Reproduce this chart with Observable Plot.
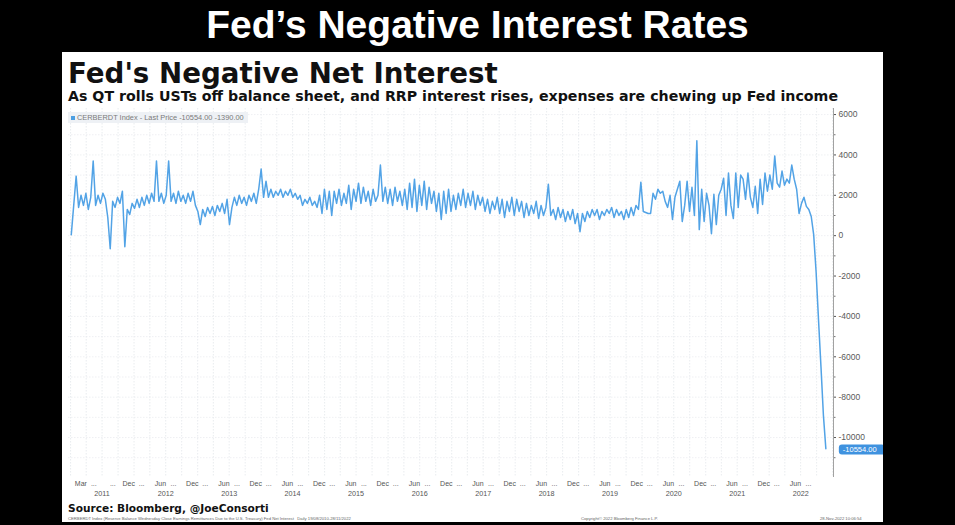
<!DOCTYPE html>
<html><head><meta charset="utf-8">
<script src="https://cdn.jsdelivr.net/npm/d3@7"></script>
<script src="https://cdn.jsdelivr.net/npm/@observablehq/plot@0.6"></script>
<style>
html,body{margin:0;padding:0}
body{background:#000;width:955px;height:525px;overflow:hidden;position:relative;font-family:"DejaVu Sans",sans-serif}
#title{position:absolute;left:0;top:2px;width:955px;text-align:center;color:#fff;font:bold 39px/45px "Liberation Sans",Arial,sans-serif}
#panel{position:absolute;left:62px;top:52px;width:821px;height:470px;background:#fff;overflow:hidden}
#h1{position:absolute;left:6px;top:6px;font:bold 27.7px/32px "DejaVu Sans",sans-serif;color:#111;white-space:nowrap}
#h2{position:absolute;left:6px;top:36px;font:bold 14.2px/17px "DejaVu Sans",sans-serif;color:#111;white-space:nowrap}
#legend{position:absolute;left:6px;top:60px;background:#eef1f5;padding:1px 4px 1px 3px;font:7.4px/9px "Liberation Sans",Arial,sans-serif;color:#7a7a7a;white-space:nowrap;z-index:2}
#legend i{display:inline-block;width:4px;height:4px;background:#4c9fe2;margin-right:2px;vertical-align:middle}
#chart{position:absolute;left:0;top:53px}
#source{position:absolute;left:6px;top:450px;font:bold 10.6px/13px "DejaVu Sans",sans-serif;color:#111;white-space:nowrap}
.tiny{position:absolute;top:464px;font:4.2px/6px "Liberation Sans",Arial,sans-serif;color:#666;white-space:nowrap}
</style>
</head>
<body>
<div id="title">Fed’s Negative Interest Rates</div>
<div id="panel">
  <div id="h1">Fed's Negative Net Interest</div>
  <div id="h2">As QT rolls USTs off balance sheet, and RRP interest rises, expenses are chewing up Fed income</div>
  <div id="legend"><i></i>CERBERDT Index - Last Price -10554.00 -1390.00</div>
  <div id="chart"></div>
  <div id="source">Source: Bloomberg, @JoeConsorti</div>
  <div class="tiny" style="left:6px">CERBERDT Index (Reserve Balance Wednesday Close Earnings Remittances Due to the U.S. Treasury) Fed Net Interest &nbsp; Daily 19/08/2010-28/11/2022</div>
  <div class="tiny" style="left:519px">Copyright© 2022 Bloomberg Finance L.P.</div>
  <div class="tiny" style="left:758px">28-Nov-2022 10:06:54</div>
</div>
<script>
// ---- data (biweekly readings, Wednesday close, millions USD) ----
const startDate = "2011-01-05";
const stepDays = 14;
const netInterest = [
  // 2011
  50,1500,2950,1400,2000,1500,2100,1300,1900,3700,1500,2000,1600,2100,1800,900,-650,1700,1400,1900,1600,2200,-550,1300,1050,1600,
  // 2012
  1350,1800,1400,1900,1500,2000,1600,2100,1700,3700,1700,2100,1600,2000,3700,1700,2100,1600,2200,1700,2000,1600,2100,1700,2200,1500,
  // 2013
  1200,550,1300,950,1400,1100,1450,1000,1500,1200,1600,1100,1800,550,1400,1900,1500,2000,1600,1900,1500,2000,1700,2100,1600,2300,
  // 2014
  3300,1900,2700,1900,2300,1900,2200,2000,2300,1900,2200,2000,2300,1900,2100,1800,2000,1500,1800,1600,1900,1500,1700,1400,2000,1100,
  // 2015
  2300,1300,2200,1000,2200,1600,2300,1500,2100,1600,2500,1300,2300,1700,2600,1600,2400,1700,2200,1500,2300,1700,2000,3500,1700,2400,
  // 2016
  1600,2300,1500,2400,1700,2200,1500,2300,1300,2600,1400,2800,1200,2500,1500,2700,1300,2400,1600,2200,1200,2100,800,2200,1100,2300,
  // 2017
  1200,2000,1300,2100,1500,2300,1400,2100,1500,2200,1300,2000,1500,1900,1200,1800,1100,1700,1300,1900,1100,1800,900,1700,1200,1900,
  // 2018
  1000,1800,1200,1700,900,1600,1000,1500,1100,1700,850,1500,1000,1400,2550,1000,1300,800,1400,900,1300,700,1200,800,1300,600,
  // 2019
  1100,200,1100,700,1200,900,1300,1000,1300,800,1200,1000,1300,1100,1400,900,1300,1000,1200,800,1300,900,1400,1000,1500,1300,
  // 2020
  2650,1200,1150,1100,1100,2100,1800,2300,2100,2200,1700,1400,2000,800,1900,2300,2700,700,1500,2700,1200,2400,1000,4700,300,2300,
  // 2021
  700,2100,1500,100,2050,550,2000,2300,2850,1000,3100,1500,850,3100,1400,3000,2800,1800,3100,1900,1400,2450,1100,2800,1550,3100,
  // 2022
  2200,3000,2300,3950,2600,2400,3200,2500,2800,2600,3500,2800,2300,1100,1600,1900,1450,1300,950,50,-1800,-4200,-6500,-8900,-10554
];
const xStart = "2010-12-20";
const xEnd = "2023-01-06";
const yMin = -11980, yMax = 6300;
const yTicks = [6000,4000,2000,0,-2000,-4000,-6000,-8000,-10000];
const yMinorTicks = [5000,3000,1000,-1000,-3000,-5000,-7000,-9000,-11000];
const gridY = [6000,5000,4000,3000,2000,1000,0,-1000,-2000,-3000,-4000,-5000,-6000,-7000,-8000,-9000,-10000,-11000];
const labelYears = [2011,2012,2013,2014,2015,2016,2017,2018,2019,2020,2021,2022];
const firstMonths = [["2011-03-01","Mar"],["2011-09-01","..."],["2011-12-01","Dec"]];
const midMonth = "Jun", endMonth = "Dec";

// ---- build tables ----
const data = netInterest.map((v,i)=>({date: d3.utcDay.offset(new Date(startDate), i*stepDays), value: v}));
const x0 = new Date(xStart), x1 = new Date(xEnd);
const monthLabels = firstMonths.map(([d,t])=>({date:new Date(d), text:t}));
labelYears.slice(1).forEach(y=>{
  monthLabels.push({date:new Date(`${y}-06-01`), text:midMonth});
  if (y < 2022) monthLabels.push({date:new Date(`${y}-12-01`), text:endMonth});
});
const dotLabels = monthLabels.filter(d=>d.text!=="...");
const yearLabels = labelYears.map(y=>({date:new Date(`${y}-07-01`), text:String(y)}));
const quarterDates = d3.utcMonth.every(3).range(x0, x1);
const last = data[data.length-1];
const lastText = last.value.toFixed(2);

const chart = Plot.plot({
  width: 821, height: 400,
  marginLeft: 6, marginRight: 50, marginTop: 3, marginBottom: 28,
  x: {type:"utc", domain:[x0,x1], axis:null},
  y: {domain:[yMin,yMax], axis:null},
  style: {background:"transparent", fontFamily:"'Liberation Sans', Arial, sans-serif", color:"#444"},
  marks: [
    Plot.ruleX(quarterDates, {stroke:"#e0e4e8", strokeDasharray:"1.5,1.5", strokeWidth:0.7}),
    Plot.ruleY(gridY, {stroke:"#e8eaee", strokeDasharray:"1.5,1.5", strokeWidth:0.7}),
    Plot.ruleX([x1], {stroke:"#8a8a8a", strokeWidth:0.8}),
    Plot.axisY(yTicks, {anchor:"right", label:null, tickSize:2, tickPadding:3, tickFormat:d=>String(d), fontSize:8.5, stroke:"#555", fill:"#5a5a5a"}),
    Plot.axisY(yMinorTicks, {anchor:"right", label:null, tickSize:1.5, tickFormat:()=>"", stroke:"#777"}),
    Plot.line(data, {x:"date", y:"value", stroke:"#52a3e6", strokeWidth:1.5}),
    Plot.text(monthLabels, {x:"date", frameAnchor:"bottom", dy:8, text:"text", fontSize:7, fill:"#555"}),
    Plot.text(dotLabels, {x:"date", frameAnchor:"bottom", dy:8, dx:13, text:()=>"...", fontSize:7, fill:"#555"}),
    Plot.text(yearLabels, {x:"date", frameAnchor:"bottom", dy:18, text:"text", fontSize:7.2, fill:"#555"}),
    Plot.text([last], {x:"date", y:"value", text:()=>lastText, textAnchor:"start", dx:17, dy:1, fontSize:7.5, fill:"#fff"})
  ]
});
document.getElementById("chart").appendChild(chart);

// blue tag behind the last value
for (const t of chart.querySelectorAll("text")) {
  if (t.textContent === lastText) {
    const b = t.getBBox();
    const r = document.createElementNS("http://www.w3.org/2000/svg","rect");
    r.setAttribute("x", b.x-4); r.setAttribute("y", b.y-0.5);
    r.setAttribute("width", b.width+12); r.setAttribute("height", b.height+1);
    r.setAttribute("rx", 3); r.setAttribute("fill", "#3f92df");
    const tr = t.getAttribute("transform");
    if (tr) r.setAttribute("transform", tr);
    t.parentNode.insertBefore(r, t);
  }
}
</script>
</body></html>
